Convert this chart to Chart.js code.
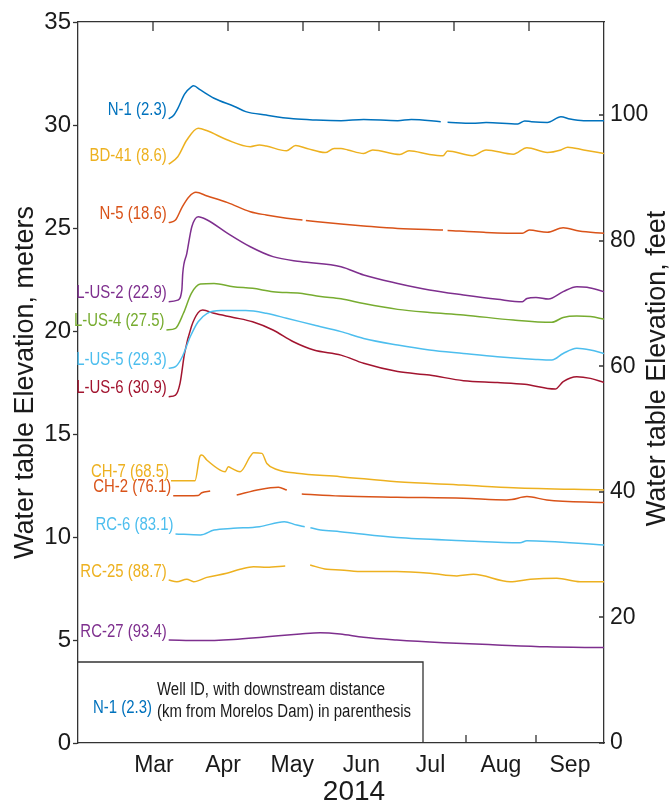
<!DOCTYPE html>
<html>
<head>
<meta charset="utf-8">
<script src="https://cdn.jsdelivr.net/npm/chart.js@4.4.1/dist/chart.umd.min.js"></script>
<style>
  html, body { margin: 0; padding: 0; background: #fff; }
</style>
</head>
<body>
<canvas id="wells" width="671" height="806"></canvas>
<script>
// day of year 2014 (Jan 1 = 0) against water table elevation in meters
const dayMin = 41, dayMax = 273;
const monthNames = ['Mar', 'Apr', 'May', 'Jun', 'Jul', 'Aug', 'Sep'];
const monthStarts = [59, 90, 120, 151, 181, 212, 243, 273];
const feetTicks = [0, 20, 40, 60, 80, 100];

const wellIds = ['N-1', 'BD-41', 'N-5', 'L-US-2', 'L-US-4', 'L-US-5', 'L-US-6', 'CH-7', 'CH-2', 'RC-6', 'RC-25', 'RC-27'];
const distances = ['2.3', '8.6', '18.6', '22.9', '27.5', '29.3', '30.9', '68.5', '76.1', '83.1', '88.7', '93.4'];
const wellColors = ['#0072BD', '#EDB120', '#D95319', '#7E2F8E', '#77AC30', '#4DBEEE', '#A2142F', '#EDB120', '#D95319', '#4DBEEE', '#EDB120', '#7E2F8E'];

// [day, meters]; null marks a gap in the record
const n1 = [[81,30.3],[83,30.45],[85,30.8],[88,31.5],[91,31.85],[92,31.9],[95,31.7],[101,31.3],[110,30.9],[115,30.65],[124,30.48],[136,30.3],[146,30.24],[157,30.21],[167,30.27],[182,30.21],[188,30.27],[201,30.16],[202,null],[204,30.13],[215,30.08],[221,30.12],[235,30.05],[238,30.2],[241,30.16],[248,30.12],[254,30.4],[258,30.29],[264,30.21],[273,30.21]];
const bd41 = [[81,28.1],[85,28.46],[89,29.27],[94,29.84],[98,29.72],[107,29.27],[117,28.95],[121,29.03],[124,28.98],[133,28.75],[137,29.0],[142,28.86],[150,28.66],[154,28.86],[157,28.86],[160,28.79],[167,28.62],[171,28.79],[183,28.57],[187,28.75],[196,28.57],[202,28.51],[204,28.74],[215,28.51],[221,28.79],[233,28.58],[239,28.9],[248,28.67],[254,28.79],[257,28.92],[264,28.79],[273,28.62]];
const n5 = [[81,25.26],[84,25.39],[87,26.03],[90,26.52],[93,26.73],[98,26.55],[107,26.23],[117,25.79],[124,25.63],[133,25.47],[140,25.39],[140.5,null],[141.5,25.36],[157,25.19],[167,25.1],[182,24.98],[202,24.9],[202.5,null],[204,24.88],[220,24.79],[237,24.74],[240,24.9],[248,24.79],[255,25.01],[262,24.85],[273,24.74]];
const lus2 = [[81,21.42],[85,21.5],[86.8,21.99],[87.2,22.8],[89,23.77],[91.2,25.06],[94,25.55],[98,25.39],[107,24.74],[117,24.09],[127,23.61],[139,23.37],[157,23.12],[167,22.72],[182,22.31],[196,21.99],[211,21.75],[226,21.54],[237,21.42],[239,21.58],[243,21.63],[248.5,21.55],[255,21.91],[261,22.15],[265.5,22.12],[273,21.91]];
const lus4 = [[80,20.05],[84,20.13],[87.5,20.86],[91,21.83],[95,22.28],[101,22.31],[109.5,22.15],[118,22.07],[127,21.91],[139,21.83],[148,21.67],[157,21.56],[167,21.33],[182,21.05],[196,20.9],[211,20.78],[233,20.53],[250,20.42],[255,20.66],[261,20.73],[267,20.7],[273,20.57]];
const lus5 = [[81,18.19],[84,18.27],[87,18.75],[90.5,19.72],[94,20.45],[98,20.86],[104,20.99],[115,20.99],[124,20.86],[133,20.62],[145,20.29],[157,19.97],[167,19.64],[182,19.32],[196,19.08],[211,18.91],[226,18.75],[243,18.62],[250,18.59],[255,18.91],[261,19.16],[267,19.08],[273,18.91]];
const lus6 = [[81,16.81],[84,16.89],[86,17.46],[88,18.91],[91,20.21],[94,20.89],[96,21.02],[101,20.86],[109.5,20.66],[118,20.45],[127,20.05],[136,19.48],[145,19.08],[157,18.83],[167,18.43],[182,18.03],[196,17.86],[211,17.59],[226,17.5],[238,17.41],[251.5,17.18],[255,17.54],[261,17.78],[267,17.7],[273,17.5]];
const ch7 = [[82,12.73],[92.6,12.73],[94.8,13.93],[95.6,13.98],[97.8,13.74],[103.7,13.25],[105.9,13.17],[107.3,13.41],[108.8,13.33],[112.5,13.17],[116.9,13.9],[118.4,14.09],[122.1,14.06],[124.3,13.57],[128.7,13.28],[137.5,13.09],[156.6,12.93],[181.6,12.68],[211,12.52],[233,12.39],[273,12.28]];
const ch2 = [[83,12.0],[94,12.02],[95.6,12.15],[99.3,12.23],[100,null],[111,12.04],[121.3,12.31],[129.4,12.41],[133.1,12.28],[135,null],[139.7,12.09],[156.6,11.99],[181.6,11.93],[211,11.88],[230,11.8],[232.3,11.82],[239,11.96],[247.8,11.8],[273,11.67]];
const rc6 = [[84,10.15],[95,10.1],[101,10.34],[109.5,10.42],[121,10.5],[132,10.74],[137.5,10.58],[141,10.5],[142,null],[143.5,10.45],[148,10.34],[156.6,10.26],[181.6,9.97],[211,9.82],[236,9.72],[239,9.82],[273,9.61]];
const rc25 = [[81,7.91],[84.6,7.83],[89,7.95],[92,7.83],[97.8,8.04],[106.6,8.24],[112.5,8.43],[118.4,8.56],[124.3,8.53],[132.4,8.59],[133,null],[143.4,8.64],[150.8,8.43],[156.6,8.4],[166.9,8.32],[181.6,8.32],[196.3,8.24],[208.1,8.11],[215.4,8.19],[231.6,7.83],[240.5,7.95],[252.2,8.0],[262.5,7.83],[273,7.83]];
const rc27 = [[81,5.0],[95,4.97],[109.5,5.03],[124.3,5.16],[139,5.29],[147.8,5.35],[156.6,5.29],[166.9,5.13],[181.6,5.0],[202.2,4.87],[225.8,4.76],[247.8,4.67],[273,4.63]];

const wellSeries = [n1, bd41, n5, lus2, lus4, lus5, lus6, ch7, ch2, rc6, rc25, rc27];

// annotation text is set in a narrow face: regular sans squeezed horizontally
const labelFont = '18px "Liberation Sans", Arial, sans-serif';
const narrow = 0.83;

function narrowText(ctx, text, x, y, align) {
  ctx.save();
  ctx.translate(x, y);
  ctx.scale(narrow, 1);
  ctx.textAlign = align;
  ctx.fillText(text, 0, 0);
  ctx.restore();
}

Chart.defaults.font.family = '"Liberation Sans", Arial, sans-serif';
Chart.defaults.color = '#1a1a1a';

// inward tick marks on the frame, right axis title, year label
const frameTicks = {
  id: 'frameTicks',
  afterDraw(chart) {
    const { ctx, chartArea: ca, scales } = chart;
    ctx.save();
    ctx.strokeStyle = '#333';
    ctx.lineWidth = 1.3;
    ctx.beginPath();
    monthStarts.forEach(d => {
      if (d <= dayMin || d >= dayMax) return;
      const px = Math.round(scales.x.getPixelForValue(d));
      ctx.moveTo(px, ca.bottom);
      ctx.lineTo(px, ca.bottom - 8);
    });
    for (let i = 1; i < 7; i++) {
      const px = Math.round(scales.xTop.getPixelForValue(i));
      ctx.moveTo(px, ca.top);
      ctx.lineTo(px, ca.top + 9);
    }
    feetTicks.forEach(v => {
      const py = Math.round(scales.feet.getPixelForValue(v));
      ctx.moveTo(ca.right, py);
      ctx.lineTo(ca.right - 5, py);
    });
    ctx.stroke();

    ctx.fillStyle = '#1a1a1a';
    ctx.font = '27px "Liberation Sans", Arial, sans-serif';
    ctx.textAlign = 'center';
    ctx.textBaseline = 'middle';
    ctx.save();
    ctx.translate(scales.feet.right - 13.5, (ca.top + ca.bottom) / 2 - 14);
    ctx.rotate(-Math.PI / 2);
    ctx.fillText('Water table Elevation, feet', 0, 0);
    ctx.restore();

    ctx.font = '28px "Liberation Sans", Arial, sans-serif';
    ctx.fillText('2014', (ca.left + ca.right) / 2 + 13, 792);
    ctx.restore();
  }
};

// well name and distance written at the start of each record
const wellLabels = {
  id: 'wellLabels',
  afterDatasetsDraw(chart) {
    const { ctx } = chart;
    ctx.save();
    ctx.font = labelFont;
    ctx.textBaseline = 'alphabetic';
    chart.data.datasets.forEach((ds, i) => {
      const first = chart.getDatasetMeta(i).data[0];
      ctx.fillStyle = ds.borderColor;
      narrowText(ctx, ds.label, first.x - 2, first.y - 3.5, 'right');
    });
    ctx.restore();
  }
};

// key box in the lower left corner
const keyBox = {
  id: 'keyBox',
  afterDraw(chart) {
    const { ctx, chartArea: ca } = chart;
    const left = ca.left, right = ca.left + 345, top = ca.bottom - 81;
    ctx.save();
    ctx.fillStyle = '#fff';
    ctx.fillRect(left + 1, top + 1, right - left - 1, ca.bottom - top - 2);
    ctx.strokeStyle = '#333';
    ctx.lineWidth = 1.3;
    ctx.beginPath();
    ctx.moveTo(left, top);
    ctx.lineTo(right, top);
    ctx.lineTo(right, ca.bottom);
    ctx.stroke();
    ctx.font = labelFont;
    ctx.textBaseline = 'middle';
    ctx.fillStyle = wellColors[0];
    narrowText(ctx, wellIds[0] + ' (' + distances[0] + ')', left + 74, top + 46, 'right');
    ctx.fillStyle = '#1a1a1a';
    narrowText(ctx, 'Well ID, with downstream distance', left + 79, top + 28, 'left');
    narrowText(ctx, '(km from Morelos Dam) in parenthesis', left + 79, top + 50, 'left');
    ctx.restore();
  }
};

const datasets = wellSeries.map((rows, i) => ({
  label: wellIds[i] + ' (' + distances[i] + ')',
  data: rows.map(r => ({ x: r[0], y: r[1] })),
  borderColor: wellColors[i],
  borderWidth: 1.5,
  pointRadius: 0,
  cubicInterpolationMode: 'monotone',
  spanGaps: false
}));

const ctx = document.getElementById('wells');

new Chart(ctx, {
  type: 'line',
  data: { datasets: datasets },
  options: {
    responsive: false,
    animation: false,
    layout: { padding: 0 },
    plugins: {
      legend: { display: false },
      tooltip: { enabled: false }
    },
    scales: {
      x: {
        type: 'linear',
        position: 'bottom',
        min: dayMin,
        max: dayMax,
        afterBuildTicks: scale => {
          scale.ticks = monthNames.map((m, i) => ({ value: (monthStarts[i] + monthStarts[i + 1]) / 2 }));
        },
        afterFit: scale => { scale.height = 63; },
        grid: { display: false },
        border: { display: true, color: '#333', width: 1.3 },
        ticks: {
          autoSkip: false,
          maxRotation: 0,
          padding: 1,
          font: { size: 23 },
          callback: (v, i) => monthNames[i]
        }
      },
      xTop: {
        type: 'linear',
        position: 'top',
        min: 0,
        max: 7,
        afterFit: scale => { scale.height = 22; },
        grid: { display: false },
        border: { display: true, color: '#333', width: 1.3 },
        ticks: { display: false }
      },
      y: {
        type: 'linear',
        position: 'left',
        min: 0,
        max: 35,
        afterFit: scale => { scale.width = 78; },
        grid: { drawOnChartArea: false, tickLength: 5, color: '#333', tickWidth: 1.3 },
        border: { display: true, color: '#333', width: 1.3 },
        ticks: { stepSize: 5, padding: 2, font: { size: 24 } },
        title: {
          display: true,
          text: 'Water table Elevation, meters',
          font: { size: 27 },
          color: '#1a1a1a',
          padding: { top: 9, bottom: 0 }
        }
      },
      feet: {
        type: 'linear',
        position: 'right',
        min: 0,
        max: 35 / 0.3048,
        afterBuildTicks: scale => {
          scale.ticks = feetTicks.map(v => ({ value: v }));
        },
        afterFit: scale => { scale.width = 67; },
        grid: { drawOnChartArea: false, drawTicks: false },
        border: { display: true, color: '#333', width: 1.3 },
        ticks: { padding: 6, font: { size: 23 } }
      }
    }
  },
  plugins: [frameTicks, wellLabels, keyBox]
});
</script>
</body>
</html>
